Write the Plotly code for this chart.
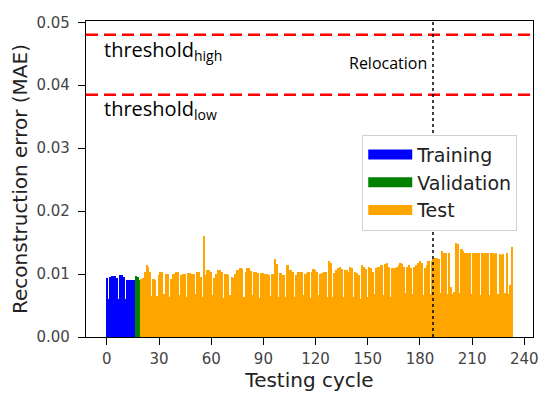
from plotly import graph_objects as chart

# reconstruction error per testing cycle
training_mae = [0.0094, 0.0060, 0.0096, 0.0097, 0.0097, 0.0097, 0.0093, 0.0060, 0.0099, 0.0099,
	0.0096, 0.0060, 0.0091, 0.0090, 0.0090, 0.0090, 0.0091]
validation_mae = [0.0097, 0.0096, 0.0090]
test_mae = [
	0.0092, 0.0093, 0.0104, 0.0115, 0.0112, 0.0104, 0.0065, 0.0092, 0.0091, 0.0065,
	0.0098, 0.0104, 0.0104, 0.0068, 0.0100, 0.0100, 0.0064, 0.0092, 0.0100, 0.0100,
	0.0104, 0.0104, 0.0066, 0.0099, 0.0100, 0.0100, 0.0064, 0.0102, 0.0102, 0.0100,
	0.0100, 0.0068, 0.0103, 0.0103, 0.0095, 0.0064, 0.0160, 0.0098, 0.0106, 0.0106,
	0.0104, 0.0066, 0.0094, 0.0100, 0.0106, 0.0106, 0.0104, 0.0062, 0.0100, 0.0100,
	0.0098, 0.0066, 0.0095, 0.0094, 0.0100, 0.0106, 0.0106, 0.0110, 0.0108, 0.0064,
	0.0104, 0.0110, 0.0110, 0.0105, 0.0066, 0.0104, 0.0104, 0.0102, 0.0062, 0.0102,
	0.0102, 0.0100, 0.0100, 0.0098, 0.0065, 0.0100, 0.0100, 0.0124, 0.0116, 0.0064,
	0.0101, 0.0099, 0.0099, 0.0063, 0.0114, 0.0106, 0.0106, 0.0104, 0.0064, 0.0098,
	0.0104, 0.0104, 0.0104, 0.0066, 0.0100, 0.0102, 0.0104, 0.0062, 0.0104, 0.0108,
	0.0106, 0.0104, 0.0066, 0.0100, 0.0102, 0.0104, 0.0104, 0.0064, 0.0120, 0.0118,
	0.0064, 0.0102, 0.0106, 0.0110, 0.0112, 0.0108, 0.0063, 0.0106, 0.0106, 0.0104,
	0.0112, 0.0110, 0.0064, 0.0104, 0.0102, 0.0098, 0.0060, 0.0114, 0.0112, 0.0108,
	0.0064, 0.0112, 0.0110, 0.0104, 0.0068, 0.0110, 0.0112, 0.0112, 0.0114, 0.0066,
	0.0116, 0.0118, 0.0112, 0.0064, 0.0110, 0.0110, 0.0110, 0.0112, 0.0114, 0.0118,
	0.0116, 0.0112, 0.0070, 0.0112, 0.0114, 0.0110, 0.0068, 0.0112, 0.0114, 0.0118,
	0.0120, 0.0118, 0.0066, 0.0110, 0.0114, 0.0120, 0.0068, 0.0120, 0.0124, 0.0126,
	0.0126, 0.0124, 0.0070, 0.0136, 0.0134, 0.0134, 0.0068, 0.0134, 0.0080, 0.0068,
	0.0072, 0.0150, 0.0148, 0.0070, 0.0140, 0.0136, 0.0134, 0.0134, 0.0134, 0.0134,
	0.0068, 0.0134, 0.0134, 0.0134, 0.0134, 0.0066, 0.0134, 0.0134, 0.0134, 0.0134,
	0.0066, 0.0134, 0.0134, 0.0132, 0.0134, 0.0068, 0.0132, 0.0130, 0.0132, 0.0070,
	0.0134, 0.0068, 0.0082, 0.0143,
]

threshold_high = 0.048
threshold_low = 0.0385
relocation_cycle = 187.5
x_ticks = [0, 30, 60, 90, 120, 150, 180, 210, 240]
y_ticks = [0.00, 0.01, 0.02, 0.03, 0.04, 0.05]

n_train = len(training_mae)
n_val = len(validation_mae)
train_x = list(range(0, n_train))
val_x = list(range(n_train, n_train + n_val))
test_x = list(range(n_train + n_val, n_train + n_val + len(test_mae)))

mpl_font = 'DejaVu Sans'
note_font = 'Open Sans'

series = [
	('Training', train_x, training_mae, '#0000ff'),
	('Validation', val_x, validation_mae, '#008000'),
	('Test', test_x, test_mae, '#ffa500'),
]

fig = chart.Figure()
for name, xs, ys, colour in series:
	fig.add_trace(chart.Bar(x=xs, y=ys, name=name, marker_color=colour, marker_line_width=0, showlegend=False))
# legend-only entries, so the swatches come out as wide patches like matplotlib's
for name, xs, ys, colour in series:
	fig.add_trace(chart.Scatter(x=[None], y=[None], mode='lines', name=name,
		line=dict(color=colour, width=14)))

for th in [threshold_high, threshold_low]:
	fig.add_hline(y=th, line=dict(color='#ff0000', width=2.5, dash='12px,6px'))
fig.add_vline(x=relocation_cycle, line=dict(color='black', width=1.5, dash='dot'))

fig.add_annotation(x=-3, y=0.0455, xref='x', yref='y', text='threshold<sub>high</sub>', showarrow=False,
	xanchor='left', yanchor='middle', font=dict(family=note_font, size=20, color='black'))
fig.add_annotation(x=-3, y=0.0362, xref='x', yref='y', text='threshold<sub>low</sub>', showarrow=False,
	xanchor='left', yanchor='middle', font=dict(family=note_font, size=20, color='black'))
fig.add_annotation(x=185, y=0.0435, xref='x', yref='y', text='Relocation', showarrow=False,
	xanchor='right', yanchor='middle', font=dict(family=note_font, size=16, color='black'))

# the page adds an 8px body margin, so the figure is a bit smaller than the window
fig.update_layout(
	width=537, height=384,
	margin=dict(l=78, r=6, t=7, b=50),
	paper_bgcolor='white', plot_bgcolor='white',
	bargap=0, barmode='overlay',
	font=dict(family=mpl_font, color='black'),
	legend=dict(x=0.618, y=0.64, xanchor='left', yanchor='top',
		bgcolor='white', bordercolor='#d0d0d0', borderwidth=1,
		font=dict(family=mpl_font, size=19, color='#222'), itemwidth=44),
)
fig.update_xaxes(
	range=[-12, 245], tickvals=x_ticks, ticks='outside', ticklen=7, tickcolor='black',
	showline=True, linecolor='black', linewidth=1.2, mirror=True, showgrid=False, zeroline=False,
	tickfont=dict(size=15, color='#444'), ticklabelstandoff=1,
	title=dict(text='Testing cycle', font=dict(size=20, color='#222'), standoff=4),
)
fig.update_yaxes(
	range=[0, 0.0502], tickvals=y_ticks, tickformat='.2f', ticks='outside', ticklen=7, tickcolor='black',
	showline=True, linecolor='black', linewidth=1.2, mirror=True, showgrid=False, zeroline=False,
	tickfont=dict(size=15, color='#444'), ticklabelstandoff=5, ticklabeloverflow='allow',
	title=dict(text='Reconstruction error (MAE)', font=dict(size=20, color='#222'), standoff=3),
)

fig.write_html("out.html")
